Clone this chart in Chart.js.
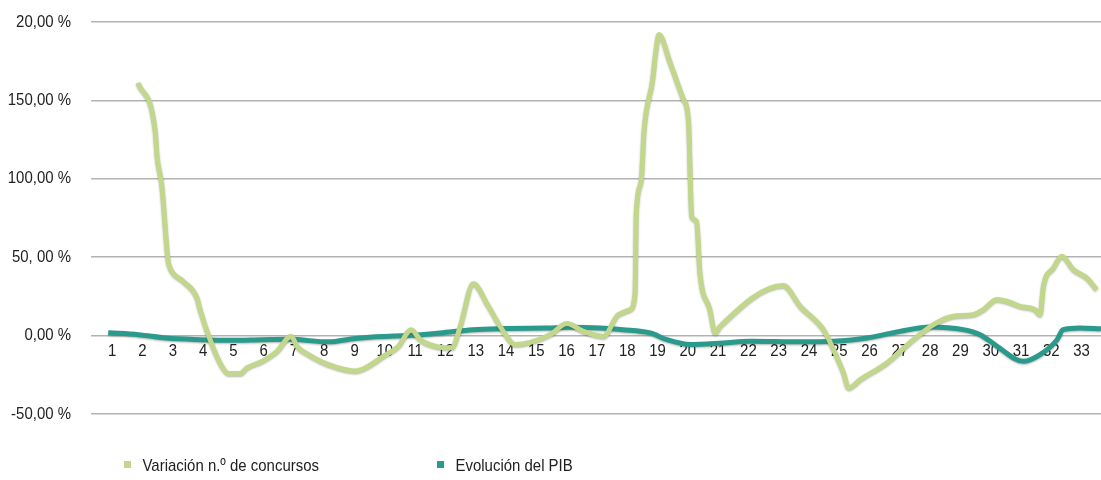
<!DOCTYPE html>
<html>
<head>
<meta charset="utf-8">
<script src="https://cdn.jsdelivr.net/npm/chart.js@4.4.0/dist/chart.umd.min.js"></script>
<style>
  html, body { margin: 0; padding: 0; background: #fff; }
  #wrap { position: relative; width: 1101px; height: 480px; }
  #legend { position: absolute; left: 0; top: 455px; width: 1101px; height: 24px;
    font-family: "Liberation Sans", Arial, sans-serif; font-size: 17px; color: #222; }
  .item { position: absolute; top: 0; white-space: nowrap; line-height: 22px;
    transform: scaleX(0.88); transform-origin: left center; }
  .box { display: inline-block; width: 8px; height: 7px; margin-right: 13px; vertical-align: 3px; }
</style>
</head>
<body>
<div id="wrap">
  <canvas id="chart" width="1101" height="480"></canvas>
  <div id="legend"></div>
</div>
<script>
// Serie 1: variación del número de concursos (%)
const concursosX = [1.85, 2.42, 2.48, 2.64, 2.84, 2.91, 3.35, 3.80, 3.90, 4.23, 4.62, 4.84, 5.22, 5.45, 5.94, 6.44, 6.91,
  7.10, 7.48, 8.14, 9.02, 9.35, 9.95, 10.45, 10.87, 11.17, 11.66, 12.21, 12.49, 12.92, 13.42, 13.91, 14.30, 14.80,
  15.46, 16.01, 16.56, 17.22, 17.71, 18.10, 18.26, 18.30, 18.46, 18.56, 18.84, 18.94, 19.05, 19.42, 19.86, 20.02,
  20.13, 20.29, 20.40, 20.73, 20.90, 21.07, 23.16, 23.71, 24.48, 24.81, 25.14, 25.31, 25.69, 26.57, 27.45, 28.11,
  28.77, 29.43, 29.76, 30.20, 30.53, 30.97, 31.46, 31.63, 31.74, 32.07, 32.35, 32.73, 33.17, 33.50];
const concursosY = [161.2, 130.3, 114.4, 95.3, 48.5, 43.2, 34.6, 24.0, 16.6, -2.6, -19.6, -24.2, -24.2, -20.6, -16.4, -10.0, -0.4,
  -6.8, -12.1, -18.5, -22.5, -20.6, -13.2, -6.8, 3.8, -2.6, -6.8, -7.8, 5.9, 33.0, 18.7, 2.7, -5.7, -4.3,
  0.6, 7.7, 2.7, -0.5, 13.4, 16.6, 27.2, 78.0, 98.4, 131.4, 163.3, 180.4, 192.0, 174.0, 150.6, 137.8,
  76.1, 72.9, 40.0, 16.6, 1.7, 5.9, 31.9, 18.7, 3.8, -8.9, -23.8, -33.4, -28.1, -17.4, -2.6, 7.0,
  12.3, 13.4, 16.6, 23.0, 21.9, 18.7, 16.6, 13.4, 31.5, 43.2, 50.6, 42.1, 36.8, 29.3];

// Serie 2: evolución del PIB (%)
const pibX = [0.87, 1.86, 2.78, 3.90, 5.00, 5.95, 6.87, 8.13, 9.02, 9.60, 10.74, 11.83, 12.91, 14.04, 15.36, 16.21, 17.10,
  17.86, 18.76, 19.31, 20.08, 21.17, 22.06, 23.71, 24.80, 25.92, 27.00, 27.99, 29.09, 29.65, 30.21, 31.07, 31.63,
  32.19, 32.39, 32.95, 33.64];
const pibY = [1.8, 0.6, -1.6, -2.6, -3.0, -2.6, -2.4, -4.0, -1.8, -0.9, 0.0, 1.7, 3.8, 4.5, 4.9, 5.3, 4.8,
  3.8, 1.7, -2.6, -5.7, -4.7, -3.6, -4.0, -3.6, -1.5, 2.7, 5.5, 3.8, 0.6, -6.8, -16.4, -12.1,
  -2.6, 3.8, 4.9, 4.3];

const seriesNames = ['Variación n.º de concursos', 'Evolución del PIB'];
const xTicks = [1, 2, 3, 4, 5, 6, 7, 8, 9, 10, 11, 12, 13, 14, 15, 16, 17, 18, 19, 20, 21, 22, 23, 24, 25, 26, 27,
  28, 29, 30, 31, 32, 33];
const yTicks = [-50, 0, 50, 100, 150, 200];
const yTickText = ['-50,00 %', '0,00 %', '50, 00 %', '100,00 %', '150,00 %', '20,00 %'];

const FONT = '"Liberation Sans", Arial, sans-serif';
const NARROW = 0.88; // estrechamiento horizontal del texto
const GREEN = '#c3d78c';
const TEAL = '#2a9a8c';

const toPoints = (xs, ys) => xs.map((x, i) => ({ x: x, y: ys[i] }));

// texto estrecho: fillText con maxWidth comprime los rótulos en horizontal
const canvas = document.getElementById('chart');
const ctx = canvas.getContext('2d');
const baseFillText = ctx.fillText;
ctx.fillText = function (text, x, y, maxWidth) {
  const w = this.measureText(text).width * NARROW;
  return baseFillText.call(this, text, x, y, maxWidth !== undefined ? Math.min(maxWidth, w) : w);
};

// sombra suave bajo las líneas para darles algo de relieve
const lineShadow = {
  id: 'lineShadow',
  beforeDatasetDraw(chart) {
    const c = chart.ctx;
    c.save();
    c.shadowColor = 'rgba(40, 50, 20, 0.35)';
    c.shadowBlur = 2;
    c.shadowOffsetY = 1;
  },
  afterDatasetDraw(chart) {
    chart.ctx.restore();
  }
};

const chart = new Chart(ctx, {
  type: 'line',
  data: {
    datasets: [{
      label: seriesNames[0],
      data: toPoints(concursosX, concursosY),
      borderColor: GREEN,
      backgroundColor: GREEN,
      borderWidth: 5,
      cubicInterpolationMode: 'monotone'
    }, {
      label: seriesNames[1],
      data: toPoints(pibX, pibY),
      borderColor: TEAL,
      backgroundColor: TEAL,
      borderWidth: 5,
      cubicInterpolationMode: 'monotone'
    }]
  },
  options: {
    responsive: false,
    animation: false,
    layout: { padding: { top: 22, bottom: 66, left: 0, right: 0 } },
    elements: { point: { radius: 0 } },
    plugins: { legend: { display: false }, tooltip: { enabled: false } },
    scales: {
      x: {
        type: 'linear',
        min: 0.3,
        max: 33.64,
        position: { y: 0 },
        grid: { display: false },
        border: { display: false },
        afterBuildTicks: scale => { scale.ticks = xTicks.map(v => ({ value: v })); },
        // el eje va sobre la línea del cero: no ocupa alto en el diseño
        afterFit: scale => { scale.height = 0; },
        ticks: {
          autoSkip: false,
          maxRotation: 0,
          padding: -2,
          color: '#222',
          font: { family: FONT, size: 17 },
          callback: v => String(v)
        }
      },
      y: {
        min: -50,
        max: 200,
        grid: { color: '#b3b3b3', lineWidth: 1.5, drawTicks: false },
        border: { display: false },
        afterBuildTicks: scale => { scale.ticks = yTicks.map(v => ({ value: v })); },
        afterFit: scale => {
          scale.width = 91;
          scale.paddingTop = 0;
          scale.paddingBottom = 0;
        },
        ticks: {
          padding: 20,
          color: '#222',
          font: { family: FONT, size: 17 },
          callback: v => yTickText[yTicks.indexOf(v)]
        }
      }
    }
  },
  plugins: [lineShadow]
});

// leyenda
const legendPos = [124, 437];
const legend = document.getElementById('legend');
chart.data.datasets.forEach((ds, i) => {
  const item = document.createElement('div');
  item.className = 'item';
  item.style.left = legendPos[i] + 'px';
  const box = document.createElement('span');
  box.className = 'box';
  box.style.background = ds.borderColor;
  item.appendChild(box);
  item.appendChild(document.createTextNode(ds.label));
  legend.appendChild(item);
});
</script>
</body>
</html>
